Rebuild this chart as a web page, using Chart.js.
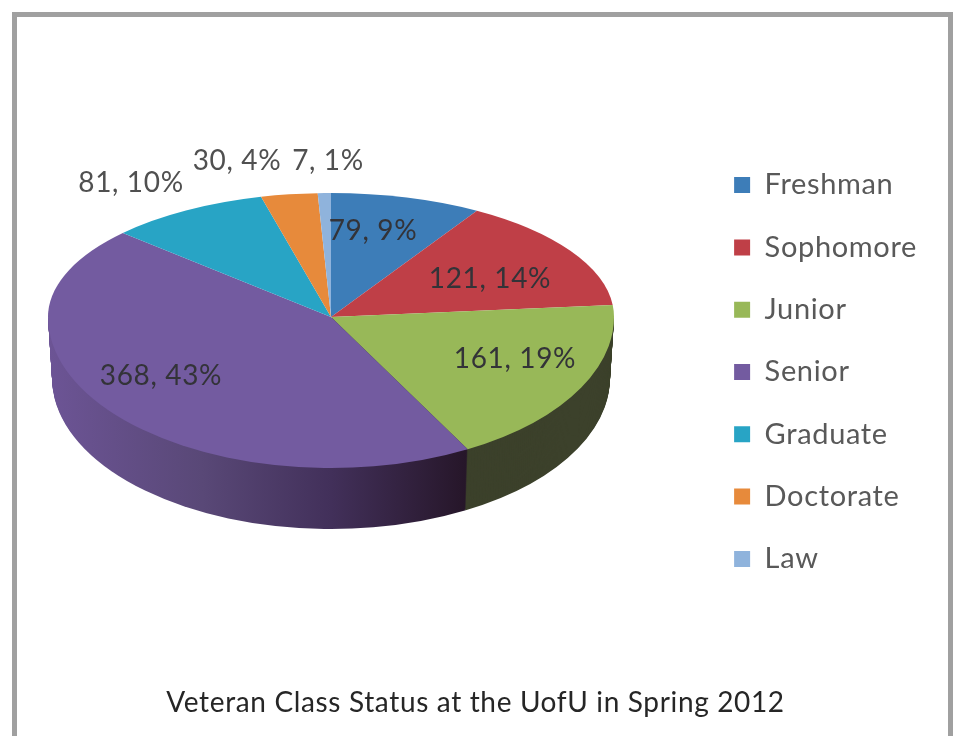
<!DOCTYPE html>
<html lang="en">
<head>
    <meta charset="UTF-8">
    <title>Veteran Class Status</title>
    <script src="https://cdn.jsdelivr.net/npm/chart.js"></script>
    <style>
        body { margin: 0; background: #fff; }
        #page { position: relative; width: 954px; height: 736px; overflow: hidden; filter: blur(0.6px); }
        #frame {
            position: absolute; left: 12px; top: 12px; width: 931px; height: 760px;
            border: 5px solid #a0a0a0; box-sizing: content-box;
        }
        canvas { position: absolute; left: 0; top: 0; }
    </style>
</head>
<body>
    <div id="page">
        <div id="frame"></div>
        <canvas id="chart" width="954" height="736"></canvas>
    </div>

    <script>
        const categories = ['Freshman', 'Sophomore', 'Junior', 'Senior', 'Graduate', 'Doctorate', 'Law'];
        const counts = [79, 121, 161, 368, 81, 30, 7];
        const colors = ['#3d7db8', '#bf3f47', '#98b858', '#735ba0', '#28a4c5', '#e78a3b', '#8fb3dc'];
        const percents = [9, 14, 19, 43, 10, 4, 1];

        // where the pie sits on the page
        const CX = 331, CY = 317, RX = 283, RY_TOP = 124, RY_BOTTOM = 151, DEPTH = 61;
        // perspective: how far the hub sits above the middle of the ellipse
        const TILT = -0.098;
        // centre of each value label, by slice
        const labelSpots = [[373, 231], [490, 279], [515, 359], [161, 376], [131, 183], [237, 161], [328, 161]];

        // chart angle -> angle as seen on the tilted disc
        function warp(angle) {
            const t = angle + Math.PI / 2;
            const y0 = -Math.cos(t);
            const w = 1 + TILT * y0;
            const u = Math.sqrt(1 - TILT * TILT) * Math.sin(t) / w;
            const dy = ((y0 + TILT) / w - TILT) * (RY_TOP + RY_BOTTOM) / 2;
            const v = dy / (dy < 0 ? RY_TOP : RY_BOTTOM);
            let out = Math.atan2(u, -v);
            if (out < 0 || t > 6) out += 2 * Math.PI;
            return out - Math.PI / 2;
        }

        function place(ctx, el, ry, rx, dy) {
            const r = el.outerRadius;
            ctx.translate(CX, CY + dy);
            ctx.scale(rx / r, ry / r);
            ctx.translate(-el.x, -el.y);
        }

        function clipBand(ctx, top, bottom) {
            ctx.beginPath();
            ctx.rect(0, top, 954, bottom - top);
            ctx.clip();
        }

        function wallFill(ctx, el, i) {
            if (i === 2) return '#3c412b';
            const r = el.outerRadius;
            const g = ctx.createLinearGradient(el.x - r, 0, el.x + r, 0);
            g.addColorStop(0, '#6c5495');
            g.addColorStop(0.27, '#594877');
            g.addColorStop(0.5, '#42305a');
            g.addColorStop(0.74, '#261629');
            g.addColorStop(1, '#261629');
            return g;
        }

        const pie3d = {
            id: 'pie3d',
            // the canvas is reset while the chart starts up, so set this here
            beforeUpdate(chart) {
                chart.ctx.letterSpacing = '0.65px';
            },
            beforeDatasetsDraw(chart) {
                const ctx = chart.ctx;
                const arcs = chart.getDatasetMeta(0).data;
                const angles = arcs.map(el => [el.startAngle, el.endAngle]);
                arcs.forEach((el, i) => {
                    el.startAngle = warp(angles[i][0]);
                    el.endAngle = warp(angles[i][1]);
                });

                // side wall, stacked from the bottom up
                arcs.forEach((el, i) => {
                    if (i !== 2 && i !== 3) return;
                    const saved = el.options;
                    el.options = Object.assign({}, saved, { backgroundColor: wallFill(ctx, el, i) });
                    for (let d = DEPTH; d >= 1; d--) {
                        ctx.save();
                        clipBand(ctx, CY + d, 736);
                        place(ctx, el, RY_BOTTOM, RX - 4 * d / DEPTH, d);
                        el.draw(ctx);
                        ctx.restore();
                    }
                    el.options = saved;
                });

                // top face: the near half of the ellipse is deeper than the far half
                arcs.forEach(el => {
                    ctx.save();
                    clipBand(ctx, 0, CY);
                    place(ctx, el, RY_TOP, RX, 0);
                    el.draw(ctx);
                    ctx.restore();

                    ctx.save();
                    clipBand(ctx, CY, 736);
                    place(ctx, el, RY_BOTTOM, RX, 0);
                    el.draw(ctx);
                    ctx.restore();
                });

                arcs.forEach((el, i) => {
                    el.startAngle = angles[i][0];
                    el.endAngle = angles[i][1];
                });

                ctx.save();
                ctx.font = '28px Lato';
                ctx.textAlign = 'center';
                ctx.textBaseline = 'middle';
                counts.forEach((n, i) => {
                    ctx.fillStyle = i < 4 ? '#333338' : '#505050';
                    ctx.fillText(n + ', ' + percents[i] + '%', labelSpots[i][0], labelSpots[i][1]);
                });
                ctx.restore();
                return false;
            }
        };

        new Chart(document.getElementById('chart'), {
            type: 'pie',
            data: {
                labels: categories,
                datasets: [{ data: counts, backgroundColor: colors, borderWidth: 0 }]
            },
            options: {
                responsive: false,
                animation: false,
                layout: { padding: { top: 24, right: 27, bottom: 16, left: 24 } },
                plugins: {
                    tooltip: { enabled: false },
                    title: {
                        display: true,
                        position: 'bottom',
                        text: 'Veteran Class Status at the UofU in Spring 2012',
                        color: '#262626',
                        font: { family: 'Lato', size: 28, weight: 'normal' },
                        padding: { top: 10, bottom: 0 }
                    },
                    legend: {
                        position: 'right',
                        labels: {
                            boxWidth: 16,
                            boxHeight: 16,
                            padding: 33.3,
                            color: '#595959',
                            font: { family: 'Lato', size: 29 }
                        }
                    }
                }
            },
            plugins: [pie3d]
        });
    </script>
</body>
</html>
